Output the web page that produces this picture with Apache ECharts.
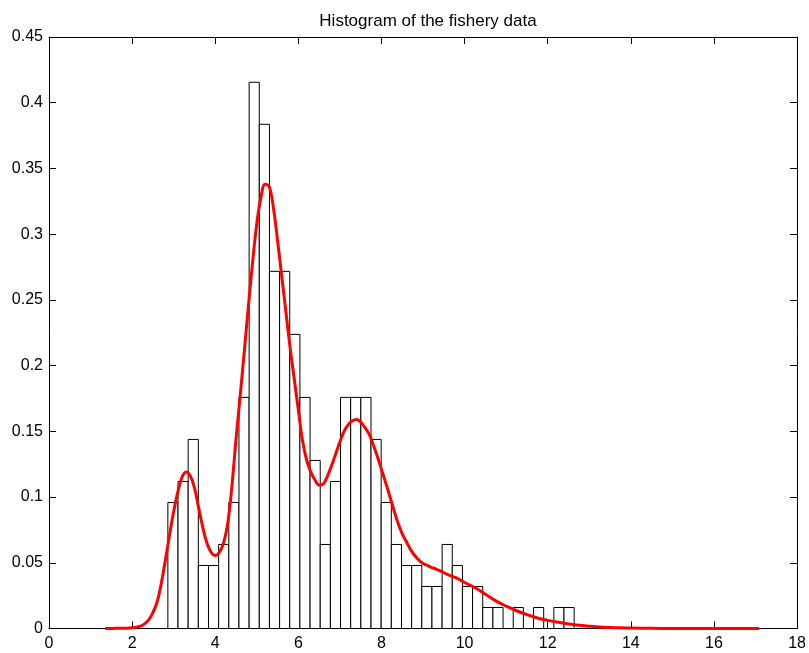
<!DOCTYPE html>
<html>
<head>
<meta charset="utf-8">
<script src="https://cdn.jsdelivr.net/npm/echarts@6/dist/echarts.min.js"></script>
<style>
  html, body { margin: 0; padding: 0; background: #fff; }
  #chart { width: 809px; height: 653px; }
</style>
</head>
<body>
<div id="chart"></div>
<script>
// Histogram of fish lengths (256 samples, 40 equal bins) with a fitted density curve
const sampleSize = 256;
const binStart = 2.86;
const binWidth = 0.2444;
const binCounts = [
  6, 7, 9, 3, 3, 4, 6, 11, 26, 24,
  17, 17, 14, 11, 8, 4, 7, 11, 11, 11,
  9, 6, 4, 3, 3, 2, 2, 4, 3, 2,
  2, 1, 1, 0, 1, 0, 1, 0, 1, 1
];

// Density estimate sampled along x
const curveX = [
  1.35, 1.6, 1.8, 2.0, 2.2, 2.3, 2.4, 2.5,
  2.6, 2.7, 2.8, 2.9, 3.0, 3.1, 3.2, 3.3, 3.4, 3.5,
  3.6, 3.7, 3.8, 3.9, 4.0, 4.1, 4.2, 4.3, 4.4, 4.5,
  4.6, 4.7, 4.8, 4.9, 5.0, 5.1, 5.2, 5.3, 5.4, 5.5,
  5.6, 5.7, 5.8, 5.9, 6.0, 6.1, 6.2, 6.3, 6.4, 6.5,
  6.6, 6.7, 6.8, 6.9, 7.0, 7.1, 7.2, 7.3, 7.4, 7.5,
  7.6, 7.7, 7.8, 7.9, 8.0, 8.1, 8.2, 8.3, 8.4, 8.5,
  8.6, 8.7, 8.8, 8.9, 9.0, 9.1, 9.2, 9.3, 9.4, 9.6,
  9.8, 10.0, 10.25, 10.5, 10.75, 11.0, 11.25, 11.5, 11.75, 12.0,
  12.25, 12.5, 12.75, 13.0, 13.25, 13.5, 13.75, 14.0, 14.5, 15.0,
  16.0, 17.09
];
const curveY = [
  0, 0.0001, 0.0002, 0.0005, 0.0018, 0.0035, 0.0065, 0.012,
  0.020, 0.034, 0.052, 0.071, 0.089, 0.104, 0.115, 0.119, 0.116, 0.107,
  0.092, 0.077, 0.065, 0.058, 0.0555, 0.058, 0.065, 0.080, 0.108, 0.144,
  0.177, 0.211, 0.246, 0.279, 0.308, 0.328, 0.338, 0.336, 0.320, 0.295,
  0.268, 0.241, 0.214, 0.190, 0.166, 0.143, 0.128, 0.119, 0.113, 0.109,
  0.110, 0.116, 0.124, 0.133, 0.142, 0.150, 0.155, 0.158, 0.159, 0.157,
  0.153, 0.148, 0.140, 0.131, 0.121, 0.111, 0.1006, 0.090, 0.080, 0.072,
  0.066, 0.060, 0.0555, 0.052, 0.0495, 0.048, 0.0465, 0.0453, 0.044, 0.041,
  0.0385, 0.035, 0.031, 0.026, 0.021, 0.017, 0.0135, 0.0105, 0.008, 0.0062,
  0.0047, 0.0035, 0.0025, 0.0018, 0.0012, 0.0008, 0.0005, 0.0003, 0.0001, 0.00005,
  0, 0
];

const font = '"Liberation Sans", Arial, Helvetica, sans-serif';

const bars = [];
binCounts.forEach((c, i) => {
  if (c > 0) {
    const left = binStart + i * binWidth;
    bars.push([left, left + binWidth, c / (sampleSize * binWidth)]);
  }
});
const curve = curveX.map((x, i) => [x, curveY[i]]);

const tickStyle = { show: true, inside: true, length: 7, lineStyle: { color: '#000', width: 1 } };
const lineStyle = { show: true, onZero: false, lineStyle: { color: '#000', width: 1 } };

const chart = echarts.init(document.getElementById('chart'), null, { renderer: 'canvas' });
chart.setOption({
  backgroundColor: '#fff',
  animation: false,
  title: {
    text: 'Histogram of the fishery data',
    left: 423, top: 8, textAlign: 'center',
    textStyle: { fontFamily: font, fontSize: 17, fontWeight: 'normal', color: '#000' }
  },
  grid: { left: 49, right: 11, top: 37, bottom: 24.5 },
  xAxis: [
    {
      type: 'value', min: 0, max: 18, interval: 2, position: 'bottom',
      axisLine: lineStyle, axisTick: tickStyle, splitLine: { show: false },
      axisLabel: { margin: 7, fontFamily: font, fontSize: 16, color: '#000' }
    },
    {
      type: 'value', min: 0, max: 18, interval: 2, position: 'top',
      axisLine: lineStyle, axisTick: tickStyle, splitLine: { show: false },
      axisLabel: { show: false }
    }
  ],
  yAxis: [
    {
      type: 'value', min: 0, max: 0.45, interval: 0.05, position: 'left',
      axisLine: lineStyle, axisTick: tickStyle, splitLine: { show: false },
      axisLabel: { margin: 6, fontFamily: font, fontSize: 16, color: '#000' }
    },
    {
      type: 'value', min: 0, max: 0.45, interval: 0.05, position: 'right',
      axisLine: lineStyle, axisTick: tickStyle, splitLine: { show: false },
      axisLabel: { show: false }
    }
  ],
  series: [
    {
      type: 'custom',
      xAxisIndex: 0, yAxisIndex: 0,
      data: bars,
      renderItem: function (params, api) {
        const p0 = api.coord([api.value(0), api.value(2)]);
        const p1 = api.coord([api.value(1), 0]);
        return {
          type: 'rect',
          shape: { x: p0[0], y: p0[1], width: p1[0] - p0[0], height: p1[1] - p0[1] },
          style: { fill: '#fff', stroke: '#000', lineWidth: 1 }
        };
      },
      z: 2
    },
    {
      type: 'line',
      xAxisIndex: 0, yAxisIndex: 0,
      data: curve,
      smooth: 0.4,
      showSymbol: false,
      lineStyle: { color: '#ff0000', width: 3, join: 'round' },
      z: 3
    }
  ]
});
</script>
</body>
</html>
